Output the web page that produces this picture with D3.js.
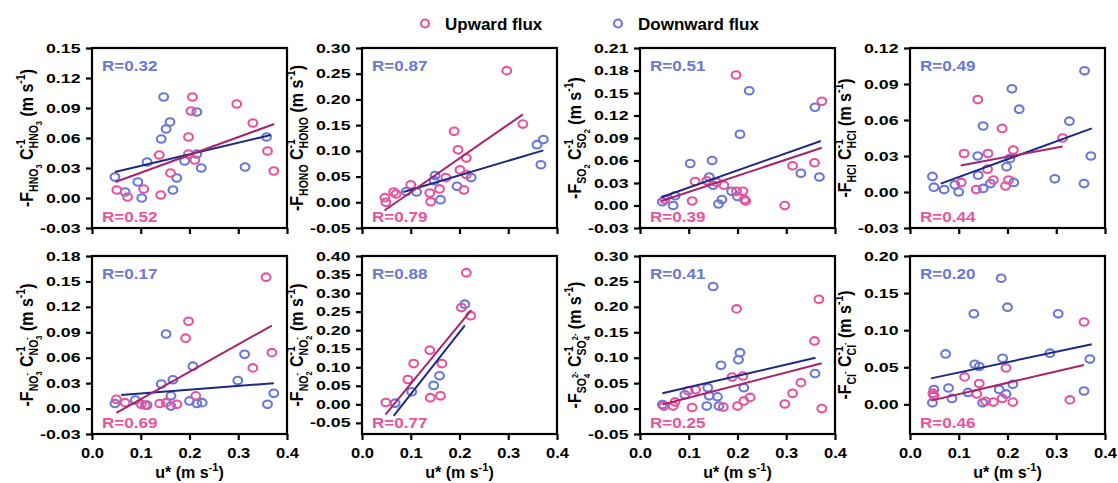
<!DOCTYPE html>
<html>
<head>
<meta charset="utf-8">
<script src="https://cdn.jsdelivr.net/npm/d3@7"></script>
<style>
  body { margin: 0; background: #fff; }
  text { font-family: "Liberation Sans", Arial, sans-serif; font-weight: bold; white-space: pre; }
</style>
</head>
<body>
<div id="chart"></div>
<script>
// chart data
var species = [
  {main: "HNO", idx: "3", chg: ""},
  {main: "HONO", idx: "", chg: ""},
  {main: "SO", idx: "2", chg: ""},
  {main: "HCl", idx: "", chg: ""},
  {main: "NO", idx: "3", chg: "-"},
  {main: "NO", idx: "2", chg: "-"},
  {main: "SO", idx: "4", chg: "2-"},
  {main: "Cl", idx: "", chg: "-"}
];
var yDomains = [[-0.03, 0.15], [-0.05, 0.30], [-0.03, 0.21], [-0.03, 0.12],
                [-0.03, 0.18], [-0.08, 0.40], [-0.05, 0.30], [-0.04, 0.20]];
var yTicks = [
  [-0.03, 0, 0.03, 0.06, 0.09, 0.12, 0.15],
  [-0.05, 0, 0.05, 0.10, 0.15, 0.20, 0.25, 0.30],
  [-0.03, 0, 0.03, 0.06, 0.09, 0.12, 0.15, 0.18, 0.21],
  [-0.03, 0, 0.03, 0.06, 0.09, 0.12],
  [-0.03, 0, 0.03, 0.06, 0.09, 0.12, 0.15, 0.18],
  [-0.05, 0, 0.05, 0.10, 0.15, 0.20, 0.25, 0.30, 0.35, 0.40],
  [-0.05, 0, 0.05, 0.10, 0.15, 0.20, 0.25, 0.30],
  [0, 0.05, 0.10, 0.15, 0.20]
];
var xDomain = [0, 0.4];
var xTicks = [0, 0.1, 0.2, 0.3, 0.4];

var rDown = [0.32, 0.87, 0.51, 0.49, 0.17, 0.88, 0.41, 0.20];
var rUp = [0.52, 0.79, 0.39, 0.44, 0.69, 0.77, 0.25, 0.46];

// upward flux points [u*, value]
var upPoints = [
  [[0.051,0.008],[0.073,0.001],[0.106,0.009],[0.141,0.003],[0.138,0.043],[0.161,0.025],[0.198,0.061],[0.198,0.044],[0.206,0.101],[0.203,0.087],[0.211,0.038],[0.297,0.094],[0.330,0.075],[0.360,0.047],[0.373,0.027]],
  [[0.047,0.009],[0.049,0.000],[0.065,0.020],[0.070,0.016],[0.100,0.034],[0.139,0.018],[0.141,0.001],[0.159,0.026],[0.172,0.048],[0.189,0.138],[0.197,0.102],[0.201,0.063],[0.214,0.086],[0.214,0.054],[0.209,0.024],[0.297,0.256],[0.330,0.152]],
  [[0.051,0.008],[0.107,0.006],[0.113,0.032],[0.137,0.033],[0.157,0.031],[0.172,0.027],[0.197,0.174],[0.198,0.019],[0.211,0.019],[0.214,0.008],[0.217,0.006],[0.297,0.000],[0.313,0.053],[0.358,0.057],[0.373,0.139]],
  [[0.105,0.008],[0.111,0.032],[0.136,0.002],[0.139,0.077],[0.160,0.032],[0.159,0.019],[0.171,0.010],[0.189,0.053],[0.196,0.005],[0.202,0.010],[0.212,0.035],[0.313,0.045]],
  [[0.050,0.011],[0.068,0.007],[0.101,0.005],[0.109,0.004],[0.139,0.006],[0.152,0.007],[0.174,0.005],[0.192,0.083],[0.198,0.103],[0.213,0.015],[0.330,0.048],[0.357,0.155],[0.369,0.066]],
  [[0.049,0.005],[0.094,0.067],[0.106,0.110],[0.139,0.146],[0.140,0.018],[0.161,0.023],[0.164,0.110],[0.204,0.261],[0.214,0.355],[0.223,0.239]],
  [[0.049,0.005],[0.068,0.005],[0.072,0.013],[0.099,0.035],[0.107,0.002],[0.114,0.037],[0.171,0.003],[0.189,0.062],[0.198,0.196],[0.200,0.005],[0.211,0.064],[0.213,0.015],[0.226,0.022],[0.297,0.009],[0.313,0.030],[0.330,0.051],[0.358,0.133],[0.367,0.215],[0.373,0.000]],
  [[0.047,0.015],[0.049,0.012],[0.112,0.037],[0.137,0.014],[0.142,0.028],[0.155,0.004],[0.171,0.003],[0.189,0.008],[0.197,0.049],[0.211,0.003],[0.328,0.006],[0.357,0.111]]
];

// downward flux points [u*, value]
var downPoints = [
  [[0.047,0.021],[0.068,0.006],[0.094,0.016],[0.102,0.000],[0.113,0.036],[0.142,0.059],[0.147,0.101],[0.152,0.069],[0.160,0.076],[0.166,0.008],[0.174,0.020],[0.190,0.037],[0.215,0.086],[0.215,0.044],[0.224,0.030],[0.314,0.031],[0.358,0.061]],
  [[0.091,0.021],[0.112,0.020],[0.150,0.052],[0.148,0.042],[0.161,0.005],[0.195,0.031],[0.224,0.048],[0.359,0.112],[0.372,0.122],[0.367,0.073]],
  [[0.046,0.005],[0.068,0.000],[0.072,0.013],[0.103,0.056],[0.142,0.038],[0.148,0.060],[0.150,0.027],[0.161,0.002],[0.168,0.008],[0.188,0.019],[0.200,0.012],[0.205,0.095],[0.224,0.153],[0.330,0.043],[0.359,0.131],[0.368,0.038]],
  [[0.046,0.013],[0.049,0.004],[0.070,0.002],[0.092,0.006],[0.100,0.000],[0.139,0.030],[0.140,0.014],[0.150,0.055],[0.150,0.003],[0.165,0.007],[0.198,0.021],[0.205,0.028],[0.209,0.086],[0.213,0.008],[0.224,0.069],[0.297,0.011],[0.327,0.059],[0.358,0.101],[0.357,0.007],[0.371,0.030]],
  [[0.047,0.006],[0.089,0.010],[0.113,0.004],[0.142,0.029],[0.152,0.088],[0.162,0.015],[0.166,0.034],[0.162,0.003],[0.200,0.009],[0.207,0.050],[0.215,0.006],[0.226,0.007],[0.299,0.033],[0.313,0.064],[0.360,0.005],[0.373,0.018]],
  [[0.068,0.003],[0.102,0.034],[0.147,0.051],[0.159,0.077],[0.211,0.270]],
  [[0.046,0.008],[0.092,0.027],[0.139,0.041],[0.137,0.005],[0.142,0.025],[0.150,0.240],[0.159,0.023],[0.162,0.005],[0.166,0.085],[0.202,0.096],[0.205,0.110],[0.213,0.041],[0.359,0.069]],
  [[0.046,0.002],[0.049,0.020],[0.073,0.068],[0.079,0.022],[0.086,0.008],[0.119,0.016],[0.131,0.122],[0.133,0.054],[0.142,0.051],[0.149,0.002],[0.183,0.020],[0.187,0.170],[0.190,0.062],[0.197,0.014],[0.200,0.131],[0.211,0.027],[0.287,0.069],[0.304,0.122],[0.357,0.018],[0.369,0.061]]
];

// fitted lines [u0, v0, u1, v1]
var upFit = [[0.048,0.016,0.374,0.074],[0.046,-0.016,0.330,0.171],[0.044,0.006,0.373,0.077],[0.104,0.022,0.313,0.038],
             [0.050,-0.005,0.369,0.098],[0.048,-0.028,0.224,0.254],[0.046,0.008,0.373,0.089],[0.043,0.005,0.357,0.053]];
var downFit = [[0.047,0.026,0.367,0.063],[0.085,0.020,0.372,0.101],[0.044,0.011,0.371,0.086],[0.063,0.007,0.373,0.053],
               [0.060,0.016,0.373,0.030],[0.065,-0.031,0.211,0.213],[0.046,0.030,0.360,0.100],[0.043,0.035,0.373,0.081]];

// layout
var svgWidth = 1118;
var svgHeight = 483;
var colLeft = [92, 362, 640, 910];
var rowTop = [48, 256];
var rowHeight = [180, 178];
var panelWidth = 195;

var upColor = "#e4559e", upLine = "#a8236f";
var downColor = "#6a78d8", downLine = "#1c2a83";

var svg = d3.select("#chart")
  .append("svg")
  .attr("width", svgWidth)
  .attr("height", svgHeight)
  .style("background", "#fff");

// legend
var legend = [{label: "Upward flux", color: upColor, x: 425}, {label: "Downward flux", color: downColor, x: 618}];
legend.forEach(function(d) {
  svg.append("circle").attr("cx", d.x).attr("cy", 23.5).attr("r", 4)
    .attr("fill", "none").attr("stroke", d.color).attr("stroke-width", 2.2);
  svg.append("text").attr("x", d.x + 20).attr("y", 30).attr("font-size", 17).text(d.label);
});

// rotated y title built from pieces
function yTitle(parent, sp, cx, cy) {
  var outer = parent.append("g").attr("transform", "translate(" + cx + "," + cy + ") rotate(-90) scale(1,1.15)");
  var g = outer.append("g");
  var x = 0;
  function put(txt, size, dy, x0) {
    var el = g.append("text").attr("x", x0).attr("y", dy).attr("font-size", size).text(txt);
    return el.node().getComputedTextLength();
  }
  // species in subscript position, returns width
  function sub(x0) {
    var w = put(sp.main, 10.5, 4.5, x0);
    var w2 = 0;
    if (sp.idx) w2 = Math.max(w2, put(sp.idx, 7.5, 7.5, x0 + w));
    if (sp.chg) w2 = Math.max(w2, put(sp.chg, 7.5, -2.5, x0 + w));
    return w + w2;
  }
  x += put("-F", 16, 0, x);
  x += sub(x);
  x += put(" C", 16, 0, x);
  var ws = put("-1", 10.5, -7, x);
  x += Math.max(ws, sub(x));
  x += put(" (m s", 16, 0, x);
  x += put("-1", 10.5, -7, x);
  x += put(")", 16, 0, x);
  g.attr("transform", "translate(" + (-x / 2) + ",0)");
}

species.forEach(function(sp, i) {
  var col = i % 4, row = Math.floor(i / 4);
  var left = colLeft[col], top = rowTop[row], h = rowHeight[row];
  var g = svg.append("g").attr("transform", "translate(" + left + "," + top + ")");

  var xScale = d3.scaleLinear().domain(xDomain).range([0, panelWidth]);
  var yScale = d3.scaleLinear().domain(yDomains[i]).range([h, 0]);

  // y axis
  var yAxis = g.append("g")
    .call(d3.axisLeft(yScale).tickValues(yTicks[i]).tickSize(6)
      .tickFormat(function(d) { return d.toFixed(2); }));
  yAxis.select(".domain").remove();
  yAxis.selectAll(".tick line").attr("stroke-width", 2.2);
  yAxis.selectAll(".tick text")
    .attr("x", -11.5 / 1.42)
    .attr("transform", "scale(1.42,1)")
    .attr("font-size", 12.5)
    .attr("font-family", "Liberation Sans, Arial, sans-serif")
    .attr("font-weight", "bold")
    .attr("fill", "#000");

  // x axis
  var xAxis = g.append("g")
    .attr("transform", "translate(0," + h + ")")
    .call(d3.axisBottom(xScale).tickValues(xTicks).tickSize(6)
      .tickFormat(function(d) { return d.toFixed(1); }));
  xAxis.select(".domain").remove();
  xAxis.selectAll(".tick line").attr("stroke-width", 2.2);
  if (row === 0) {
    xAxis.selectAll(".tick text").remove();
  } else {
    xAxis.selectAll(".tick text")
      .attr("y", 14)
      .attr("dy", "0.71em")
      .attr("transform", "scale(1.18,1)")
      .attr("font-size", 14)
      .attr("font-family", "Liberation Sans, Arial, sans-serif")
      .attr("font-weight", "bold")
      .attr("fill", "#000");
  }

  // points
  function drawPoints(data, color) {
    g.selectAll(null)
      .data(data)
      .enter()
      .append("ellipse")
      .attr("cx", function(d) { return xScale(d[0]); })
      .attr("cy", function(d) { return yScale(d[1]); })
      .attr("rx", 4.4)
      .attr("ry", 3.8)
      .attr("fill", "none")
      .attr("stroke", color)
      .attr("stroke-width", 2.1);
  }
  drawPoints(downPoints[i], downColor);
  drawPoints(upPoints[i], upColor);

  // fit lines
  [[downFit[i], downLine], [upFit[i], upLine]].forEach(function(f) {
    g.append("line")
      .attr("x1", xScale(f[0][0])).attr("y1", yScale(f[0][1]))
      .attr("x2", xScale(f[0][2])).attr("y2", yScale(f[0][3]))
      .attr("stroke", f[1])
      .attr("stroke-width", 2);
  });

  // frame
  g.append("rect")
    .attr("width", panelWidth)
    .attr("height", h)
    .attr("fill", "none")
    .attr("stroke", "#000")
    .attr("stroke-width", 2.2);

  // R labels
  g.append("text").attr("x", 10 / 1.1).attr("y", 23.5).attr("transform", "scale(1.1,1)")
    .attr("font-size", 15.5).attr("fill", downColor).text("R=" + rDown[i].toFixed(2));
  g.append("text").attr("x", 10 / 1.1).attr("y", h - 5.5).attr("transform", "scale(1.1,1)")
    .attr("font-size", 15.5).attr("fill", upColor).text("R=" + rUp[i].toFixed(2));

  // y title
  yTitle(svg, sp, left - 59, top + h / 2);

  // x title on bottom row
  if (row === 1) {
    var xt = svg.append("text")
      .attr("x", left + panelWidth / 2)
      .attr("y", 478)
      .attr("text-anchor", "middle")
      .attr("font-size", 16);
    xt.append("tspan").text("u* (m s");
    xt.append("tspan").attr("font-size", 11).attr("dy", -7).text("-1");
    xt.append("tspan").attr("dy", 7).text(")");
  }
});
</script>
</body>
</html>
